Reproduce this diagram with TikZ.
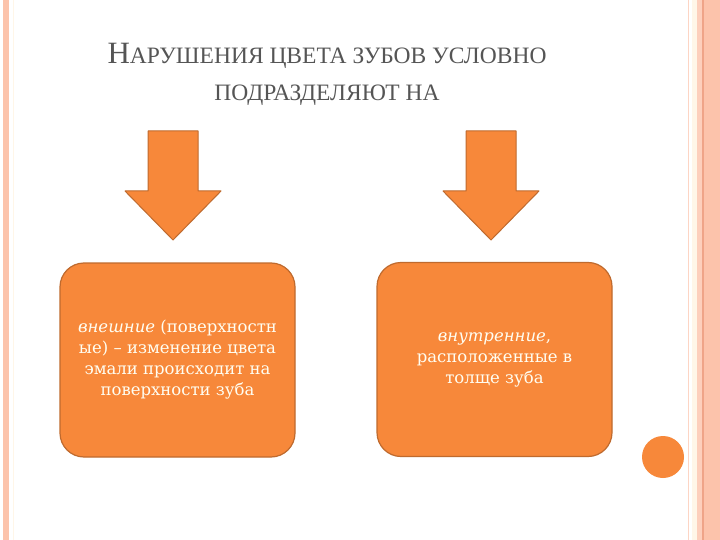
\documentclass[tikz,border=0pt]{standalone}
\usepackage{fontspec}
\setmainfont{Liberation Serif}
\newfontfamily\boxfont{DejaVu Serif}
\usetikzlibrary{positioning}

\definecolor{stripepink}{HTML}{FCC3AB}
\definecolor{stripeline}{HTML}{EFA488}
\definecolor{stripecream}{HTML}{FFF6E8}
\definecolor{boxorange}{HTML}{F7883A}
\definecolor{boxedge}{HTML}{BF6A2E}
\definecolor{titlegray}{HTML}{555555}

\tikzset{
  kindbox/.style={draw=boxedge, line width=1.2pt, fill=boxorange, rounded corners=24pt,
    minimum width=235pt, minimum height=194pt, align=center, text=white!95!yellow,
    font=\boxfont\fontsize{16.5}{21}\selectfont},
  downarrow/.style={draw=boxedge, line width=1pt, fill=boxorange, line join=round}
}

\begin{document}
\begin{tikzpicture}[x=1pt, y=-1pt]
\useasboundingbox (0,0) rectangle (720,540);
\fill [white] (0,0) rectangle (720,540);

%the side stripes
\fill [stripepink] (3,0) rectangle (9,540);
\draw [stripecream, line width=1pt] (13,0) -- (13,540);
\draw [stripepink!70, line width=1pt] (688,0) -- (688,540);
\fill [stripecream] (692,0) rectangle (697,540);
\fill [stripepink!80] (697,0) rectangle (702,540);
\draw [stripeline, line width=1.2pt] (703,0) -- (703,540);
\fill [stripepink] (704,0) rectangle (720,540);

%the title
\node [text=titlegray, align=center, font=\fontsize{23.5}{37}\selectfont] (title) at (327,74)
  {{\fontsize{31}{37}\selectfont Н}АРУШЕНИЯ ЦВЕТА ЗУБОВ УСЛОВНО\\
   ПОДРАЗДЕЛЯЮТ НА};

%the arrows
\foreach \cx in {173,491}
  \draw [downarrow] (\cx-25,131) -- (\cx+25,131) -- (\cx+25,191) -- (\cx+48,191)
    -- (\cx,240) -- (\cx-48,191) -- (\cx-25,191) -- cycle;

%the boxes
\node [kindbox] (outer) at (177.5,360)
  {\textit{внешние} (поверхностн\\ые) – изменение цвета\\эмали происходит на\\поверхности зуба};
\node [kindbox] (inner) at (494.5,359.5)
  {\textit{внутренние},\\расположенные в\\толще зуба};

%the dot
\fill [boxorange] (663,457) circle (21);
\end{tikzpicture}
\end{document}
